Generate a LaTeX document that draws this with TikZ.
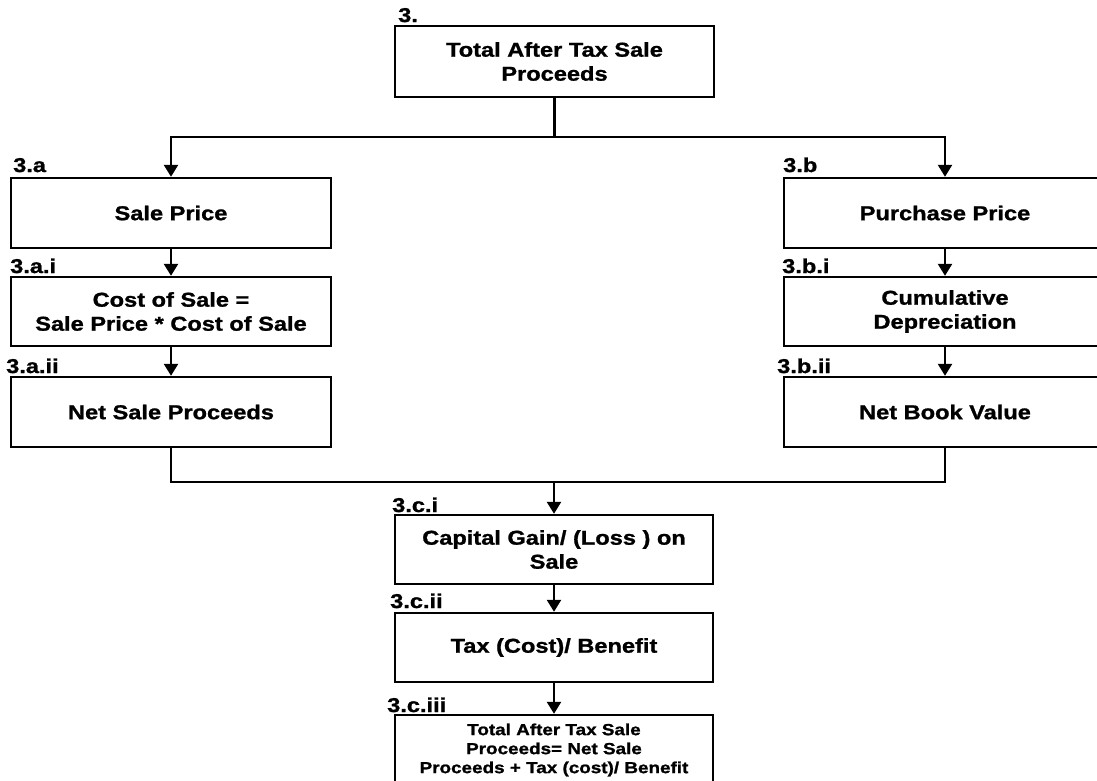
\documentclass[tikz,border=0pt]{standalone}
\usepackage{fontspec}
\setmainfont[FakeStretch=1.18,FakeBold=1.2]{Liberation Sans}
\usetikzlibrary{arrows.meta}
\begin{document}
\begin{tikzpicture}[x=1pt,y=-1pt,
  box/.style={draw=black,line width=2.4pt,fill=white,inner sep=0pt,align=center,
    font=\fontsize{20}{24}\selectfont\bfseries},
  smallbox/.style={box,font=\fontsize{16}{19}\selectfont\bfseries},
  tag/.style={anchor=base west,inner sep=0pt,font=\fontsize{20}{24}\selectfont\bfseries},
  conn/.style={line width=2.4pt},
  arr/.style={conn,-{Triangle[width=14pt,length=12pt]}}]
\useasboundingbox (0,0) rectangle (1097,780);
\fill[white] (0,0) rectangle (1097,780);

% boxes
\node[box,minimum width=319pt,minimum height=71pt] (top) at (554.5,61.5) {Total After Tax Sale\\Proceeds};
\node[box,minimum width=320pt,minimum height=70pt] (sp) at (171,213) {Sale Price};
\node[box,minimum width=320pt,minimum height=69pt] (cs) at (171,311.5) {Cost of Sale =\\Sale Price * Cost of Sale};
\node[box,minimum width=320pt,minimum height=70pt] (nsp) at (171,412) {Net Sale Proceeds};
\node[box,minimum width=322pt,minimum height=70pt] (pp) at (945,213) {Purchase Price};
\node[box,minimum width=322pt,minimum height=69pt] (cd) at (945,311.5) {Cumulative\\Depreciation};
\node[box,minimum width=322pt,minimum height=70pt] (nbv) at (945,412) {Net Book Value};
\node[box,minimum width=318pt,minimum height=69pt] (cg) at (554,549.5) {Capital Gain/ (Loss ) on\\Sale};
\node[box,minimum width=318pt,minimum height=69pt] (tax) at (554,647.5) {Tax (Cost)/ Benefit};
\node[smallbox,minimum width=318pt,minimum height=70pt] (tot) at (554,750) {Total After Tax Sale\\Proceeds= Net Sale\\Proceeds + Tax (cost)/ Benefit};

% labels
\node[tag] (l3) at (398,22) {3.};
\node[tag] (l3a) at (13,172) {3.a};
\node[tag] (l3ai) at (10,273) {3.a.i};
\node[tag] (l3aii) at (6,373) {3.a.ii};
\node[tag] (l3b) at (783,172) {3.b};
\node[tag] (l3bi) at (782,273) {3.b.i};
\node[tag] (l3bii) at (777,373) {3.b.ii};
\node[tag] (l3ci) at (392,512) {3.c.i};
\node[tag] (l3cii) at (390,608) {3.c.ii};
\node[tag] (l3ciii) at (387,712) {3.c.iii};

% connectors
\coordinate (split) at (554.5,137);
\coordinate (join) at (554,482);
\draw[conn] (top.south) -- (split);
\draw[arr] (split) -| (sp.north);
\draw[arr] (split) -| (pp.north);
\draw[arr] (sp.south) -- (cs.north);
\draw[arr] (cs.south) -- (nsp.north);
\draw[arr] (pp.south) -- (cd.north);
\draw[arr] (cd.south) -- (nbv.north);
\draw[conn] (nsp.south) |- (join);
\draw[conn] (nbv.south) |- (join);
\draw[arr] (join) -- (cg.north);
\draw[arr] (cg.south) -- (tax.north);
\draw[arr] (tax.south) -- (tot.north);
\end{tikzpicture}
\end{document}
